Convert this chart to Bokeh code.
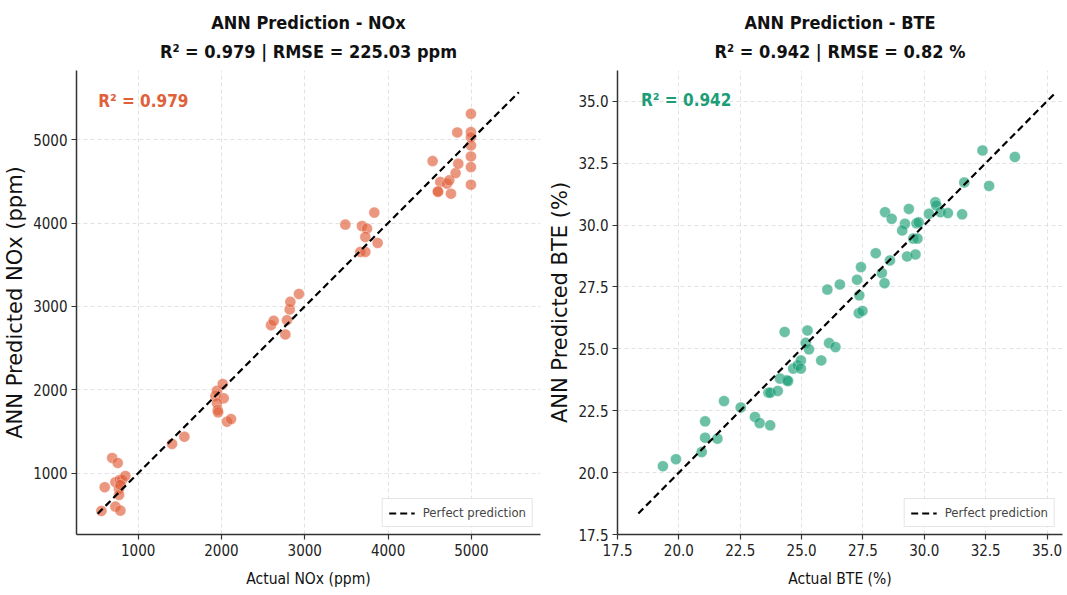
from bokeh.plotting import figure
from bokeh.models import (Title, Label, Legend, LegendItem, FixedTicker, Range1d,
                          CustomJSTickFormatter)
from bokeh.layouts import row
from bokeh.embed import file_html
from bokeh.resources import INLINE

# ---------------- data ----------------
nox_actual = [559, 599, 688, 755, 727, 779, 807, 847, 771, 771, 727, 787, 787,
              1407, 1555, 1927, 1947, 2015, 2027, 1947, 1955, 1960, 2067, 2115,
              2595, 2627, 2767, 2787, 2819, 2827, 2930,
              3487, 3687, 3835, 3747, 3727, 3875, 3667, 3727,
              4535, 4627, 4599, 4707, 4735, 4755, 4811, 4843, 4831,
              4995, 4995, 4995, 4995, 4995, 4995, 4995, 4599]
nox_pred = [548, 832, 1183, 1123, 892, 920, 920, 968, 812, 740, 600, 552, 860,
            1351, 1438, 1926, 1989, 2069, 1898, 1838, 1758, 1730, 1618, 1650,
            2776, 2828, 2665, 2836, 2964, 3055, 3150,
            3982, 3965, 4126, 3934, 3834, 3762, 3654, 3654,
            4744, 4493, 4373, 4473, 4513, 4353, 4600, 4713, 5087,
            5311, 5091, 5030, 4931, 4800, 4672, 4461, 4380]
nox_line = [515, 5570]
nox_ticks = [1000, 2000, 3000, 4000, 5000]

bte_actual = [19.35, 19.88, 20.93, 21.07, 21.07, 21.57, 21.84, 22.52, 23.10, 23.29,
              23.72, 23.65, 23.73, 24.03, 24.12, 24.40, 24.45, 24.31, 24.66, 24.84,
              24.97, 24.97, 25.24, 25.17, 25.30, 25.80, 26.12, 26.38, 27.33, 27.48,
              26.05, 26.56, 27.26, 27.35, 27.42, 28.02, 28.27, 28.38, 28.60, 28.40,
              28.67, 29.21, 29.10, 29.37, 29.30, 29.64, 29.55, 29.72, 29.68, 29.77,
              30.19, 30.45, 30.49, 30.66, 30.96, 31.54, 31.63, 32.37, 32.64, 33.69]
bte_pred = [20.26, 20.54, 20.83, 21.41, 22.07, 21.37, 22.89, 22.63, 22.25, 22.00,
            21.91, 23.23, 23.23, 23.30, 23.80, 23.73, 23.70, 25.68, 24.20, 24.33,
            24.53, 24.20, 25.74, 25.24, 24.98, 24.53, 25.23, 25.07, 26.44, 26.53,
            27.39, 27.60, 27.79, 27.16, 28.30, 28.86, 28.06, 27.65, 28.57, 30.52,
            30.25, 30.05, 29.78, 30.65, 28.73, 28.81, 29.45, 29.45, 30.07, 30.11,
            30.45, 30.92, 30.79, 30.52, 30.48, 30.43, 31.72, 33.01, 31.58, 32.75]
bte_line = [18.35, 35.35]
bte_ticks = [17.5, 20.0, 22.5, 25.0, 27.5, 30.0, 32.5, 35.0]

FONT = "DejaVu Sans Condensed, DejaVu Sans"
ORANGE = "#E0603A"
GREEN = "#1B9E77"


def make_panel(xa, yp, line, ticks, xr, yr, color, t1, t2, xlabel, ylabel,
               r2text, r2pos, width, mbl, mbr, fmt):
    p = figure(width=width, height=590, output_backend="svg", toolbar_location=None,
               x_range=Range1d(*xr), y_range=Range1d(*yr),
               min_border_left=mbl, min_border_right=mbr,
               min_border_top=70, min_border_bottom=56)
    p.add_layout(Title(text=t2, text_font=FONT, text_font_size="18px",
                       text_font_style="bold", align="center", standoff=18,
                       text_color="#111111"), "above")
    p.add_layout(Title(text=t1, text_font=FONT, text_font_size="18px",
                       text_font_style="bold", align="center", standoff=-6,
                       text_color="#111111"), "above")
    p.outline_line_color = None
    p.background_fill_color = "white"
    for ax in (p.xaxis[0], p.yaxis[0]):
        ax.ticker = FixedTicker(ticks=ticks)
        ax.formatter = CustomJSTickFormatter(code=fmt)
        ax.axis_line_color = "#333333"
        ax.axis_line_width = 1.5
        ax.major_tick_line_color = "#333333"
        ax.major_tick_line_width = 1.2
        ax.major_tick_out = 5
        ax.major_tick_in = 0
        ax.minor_tick_line_color = None
        ax.major_label_text_font = FONT
        ax.major_label_text_font_size = "15px"
        ax.major_label_standoff = 4
        ax.major_label_text_color = "#222222"
        ax.axis_label_text_color = "#111111"
        ax.axis_label_text_font_style = "normal"
    p.xaxis.axis_label = xlabel
    p.xaxis.axis_label_text_font = FONT
    p.xaxis.axis_label_text_font_size = "15.5px"
    p.xaxis.axis_label_standoff = 11
    p.yaxis.axis_label = ylabel
    p.yaxis.axis_label_text_font = "DejaVu Sans"
    p.yaxis.axis_label_text_font_size = "21px"
    p.yaxis.axis_label_standoff = 3
    p.grid.grid_line_color = "#d2d2d2"
    p.grid.grid_line_dash = "4 3"
    p.grid.grid_line_alpha = 0.8
    p.grid.grid_line_width = 0.8

    p.scatter(xa, yp, size=11, fill_color=color, fill_alpha=0.65,
              line_color="white", line_width=0.5, line_alpha=0.6)
    ln = p.line(line, line, line_color="black", line_width=2.2, line_dash="7 4")
    leg = Legend(items=[LegendItem(label="Perfect prediction", renderers=[ln])],
                 location="bottom_right", label_text_font=FONT,
                 label_text_font_size="13px", border_line_color="#cccccc",
                 border_line_width=1, glyph_width=26, glyph_height=14,
                 padding=6, margin=7, label_standoff=8, spacing=0,
                 background_fill_alpha=0.9)
    p.add_layout(leg)
    p.add_layout(Label(x=r2pos[0], y=r2pos[1], text=r2text, text_font=FONT,
                       text_font_size="17px", text_font_style="bold",
                       text_color=color, text_baseline="middle"))
    return p


p1 = make_panel(nox_actual, nox_pred, nox_line, nox_ticks, (260, 5830), (265, 5830),
                ORANGE, "ANN Prediction - NOx", "R\u00b2 = 0.979 | RMSE = 225.03 ppm",
                "Actual NOx (ppm)", "ANN Predicted NOx (ppm)", "R\u00b2 = 0.979",
                (520, 5470), 545, 76, 5, "return tick.toFixed(0);")
p2 = make_panel(bte_actual, bte_pred, bte_line, bte_ticks, (17.5, 35.63), (17.5, 36.24),
                GREEN, "ANN Prediction - BTE", "R\u00b2 = 0.942 | RMSE = 0.82 %",
                "Actual BTE (%)", "ANN Predicted BTE (%)", "R\u00b2 = 0.942",
                (18.46, 35.03), 522, 68, 5, "return tick.toFixed(1);")

layout = row(p1, p2)
open("out.html", "w").write(file_html(layout, INLINE))
